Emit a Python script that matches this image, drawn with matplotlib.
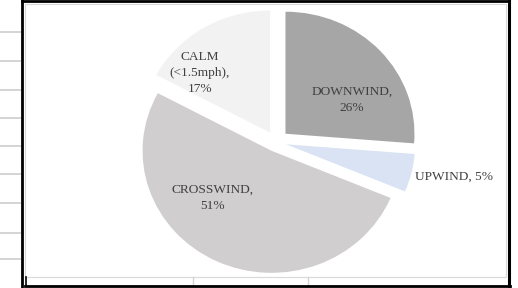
import matplotlib
matplotlib.use("Agg")
import matplotlib.pyplot as plt
from matplotlib.lines import Line2D
from matplotlib.patches import Rectangle

# ---- data ----
categories = ["DOWNWIND", "UPWIND", "CROSSWIND", "CALM\n(<1.5mph)"]
values = [26, 5, 51, 17]
label_texts = ["DOWNWIND,\n26%", "UPWIND, 5%", "CROSSWIND,\n51%", "CALM\n(<1.5mph),\n17%"]

# ---- styles / layout ----
colors = ["#a6a6a6", "#dae3f3", "#d0cece", "#f2f2f2"]
explode = [0.10, 0.08, 0.08, 0.09]
label_pos = [(0.589, 0.344), (1.078, -0.287), (-0.488, -0.459), (-0.589, 0.566)]
label_ha = ["center", "left", "center", "center"]

W, H = 518, 288
fig = plt.figure(figsize=(W / 100, H / 100), dpi=100)
fig.patch.set_facecolor("white")

def fx(x):
    return x / W

def fy(y):
    return 1 - y / H

ax = fig.add_axes([0, 0, 1, 1])
ax.patch.set_visible(False)
wedges, _ = ax.pie(values, colors=colors, explode=explode, startangle=90,
                   counterclock=False, radius=1.0,
                   wedgeprops=dict(linewidth=0))
ax.set_aspect("auto")
cx, cy, rx, ry = 276, 142, 129, 122
ax.set_xlim((0 - cx) / rx, (W - cx) / rx)
ax.set_ylim((cy - H) / ry, cy / ry)
ax.axis("off")

for txt, (lx, ly), ha in zip(label_texts, label_pos, label_ha):
    ax.text(lx, ly, txt, ha=ha, va="center", family="Liberation Serif",
            fontsize=9.6, color="#404040", linespacing=1.45, multialignment="center")

# ---- spreadsheet frame decorations ----
grid_c = "#d4d4d4"
for y in [32, 61, 90, 118, 146, 174, 203, 233, 259]:
    fig.add_artist(Line2D([fx(0), fx(20)], [fy(y), fy(y)], color=grid_c, lw=1.4))
for x in [193, 308]:
    fig.add_artist(Line2D([fx(x), fx(x)], [fy(277), fy(285)], color=grid_c, lw=1.0))

# inner chart area border
fig.add_artist(Rectangle((fx(25), fy(277)), fx(506) - fx(25), fy(4) - fy(277),
                         fill=False, edgecolor="#d9d9d9", lw=0.8))

# black outer frame
bk = "#000000"
fig.add_artist(Line2D([fx(22), fx(22)], [fy(0), fy(288)], color=bk, lw=2.0))
fig.add_artist(Line2D([fx(508.5), fx(508.5)], [fy(0), fy(288)], color=bk, lw=2.2))
fig.add_artist(Line2D([fx(22), fx(509)], [fy(1), fy(1)], color=bk, lw=2.0))
fig.add_artist(Line2D([fx(25), fx(510)], [fy(285.5), fy(285.5)], color=bk, lw=2.0))
fig.add_artist(Line2D([fx(25.5), fx(25.5)], [fy(277), fy(286)], color=bk, lw=1.2))

fig.savefig("out.png", dpi=100, facecolor="white")
